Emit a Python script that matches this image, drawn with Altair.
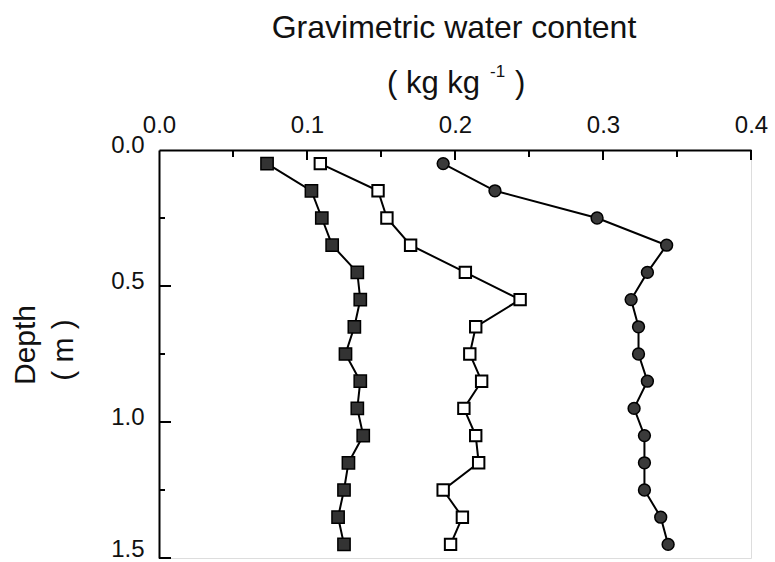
import altair as alt
import pandas as pd

# Soil depth (m) for each sampling layer
depth = [0.05, 0.15, 0.25, 0.35, 0.45, 0.55, 0.65, 0.75, 0.85, 0.95, 1.05, 1.15, 1.25, 1.35, 1.45]

# Gravimetric water content (kg/kg) for the three profiles
filled_square = [0.073, 0.103, 0.110, 0.117, 0.134, 0.136, 0.132, 0.126, 0.136, 0.134, 0.138, 0.128, 0.125, 0.121, 0.125]
open_square = [0.109, 0.148, 0.154, 0.170, 0.207, 0.244, 0.214, 0.210, 0.218, 0.206, 0.214, 0.216, 0.192, 0.205, 0.197]
filled_circle = [0.192, 0.227, 0.296, 0.343, 0.330, 0.319, 0.324, 0.324, 0.330, 0.321, 0.328, 0.328, 0.328, 0.339, 0.344]

# Axis tick positions
x_major = [0.1, 0.2, 0.3, 0.4]
x_minor = [0.05, 0.15, 0.25, 0.35]
y_major = [0.5, 1.0, 1.5]
y_minor = [0.25, 0.75, 1.25]
x_labels = [0.0, 0.1, 0.2, 0.3, 0.4]
y_labels = [0.0, 0.5, 1.0, 1.5]

FONT = "Liberation Sans"
W, H = 592, 408

x_scale = alt.Scale(domain=[0, 0.4], nice=False, zero=False)
y_scale = alt.Scale(domain=[0, 1.5], reverse=True, nice=False, zero=False)

# Top x axis and left y axis: domain line and labels; ticks are drawn inward as rules
x_axis = alt.Axis(orient="top", values=x_labels, format=".1f", title=None,
                  ticks=False, grid=False, domainColor="black", domainWidth=2,
                  labelFont=FONT, labelFontSize=24, labelColor="#111",
                  labelPadding=13, labelFlush=False, labelOverlap=False, labelBound=False)
y_axis = alt.Axis(orient="left", values=y_labels, format=".1f", title=None,
                  ticks=False, grid=False, domainColor="black", domainWidth=2,
                  labelFont=FONT, labelFontSize=24, labelColor="#111",
                  labelPadding=15,
                  labelOffset={"condition": {"test": "datum.value >= 1.5", "value": -9}, "value": -5},
                  labelFlush=False, labelOverlap=False, labelBound=False)


def frame(values, key):
    return pd.DataFrame({key: values})


def profile(values, name):
    return pd.DataFrame({"depth": depth, "water": values, "series": name})


x_enc = alt.X("water:Q", scale=x_scale, axis=x_axis)
y_enc = alt.Y("depth:Q", scale=y_scale, axis=y_axis)


def xticks(vals, length):
    return alt.Chart(frame(vals, "water")).mark_rule(color="black", strokeWidth=2).encode(
        x=x_enc, y=alt.value(0), y2=alt.value(length))


def yticks(vals, length):
    return alt.Chart(frame(vals, "depth")).mark_rule(color="black", strokeWidth=2).encode(
        y=y_enc, x=alt.value(0), x2=alt.value(length))


def series_line(values, name):
    return alt.Chart(profile(values, name)).mark_line(color="black", strokeWidth=2).encode(
        x=x_enc, y=y_enc, order="depth:Q")


fs = alt.Chart(profile(filled_square, "fs")).mark_point(
    shape="square", size=150, filled=True, fill="#333", stroke="black", strokeWidth=1.5, opacity=1
).encode(x=x_enc, y=y_enc)

os_ = alt.Chart(profile(open_square, "os")).mark_point(
    shape="square", size=130, filled=True, fill="white", stroke="black", strokeWidth=2, opacity=1
).encode(x=x_enc, y=y_enc)

fc = alt.Chart(profile(filled_circle, "fc")).mark_point(
    shape="circle", size=140, filled=True, fill="#3a3a3a", stroke="black", strokeWidth=1.5, opacity=1
).encode(x=x_enc, y=y_enc)

# Axis titles
title_main = ["Gravimetric water content"]
title_unit = ["( kg kg"]
title_exp = ["-1"]
title_close = [")"]
depth_title = ["Depth"]
depth_unit = ["( m )"]


def label(text, x, y, size, align="center", angle=0, baseline="alphabetic"):
    return alt.Chart(frame(text, "t")).mark_text(
        font=FONT, fontSize=size, color="#111", align=align, baseline=baseline, angle=angle
    ).encode(text="t:N", x=alt.value(x), y=alt.value(y))


titles = (
    label(title_main, 295, -112, 32)
    + label(title_unit, 321, -57, 31, align="right")
    + label(title_exp, 331, -73, 17, align="left")
    + label(title_close, 356, -57, 31, align="left")
    + label(depth_title, -133, 195, 30, angle=270, baseline="middle")
    + label(depth_unit, -95, 200, 30, angle=270, baseline="middle")
)

chart = alt.layer(
    xticks(x_major, 10), xticks(x_minor, 7),
    yticks(y_major, 12), yticks(y_minor, 6),
    series_line(filled_square, "fs"), series_line(open_square, "os"), series_line(filled_circle, "fc"),
    fs, os_, fc,
    titles,
).properties(
    width=W, height=H,
    autosize=alt.AutoSizeParams(type="none"),
    padding={"left": 159, "top": 150, "right": 24, "bottom": 4},
).configure_view(strokeWidth=0).configure(background="white")

chart.save("out.html", embed_options={"renderer": "svg", "actions": False})
